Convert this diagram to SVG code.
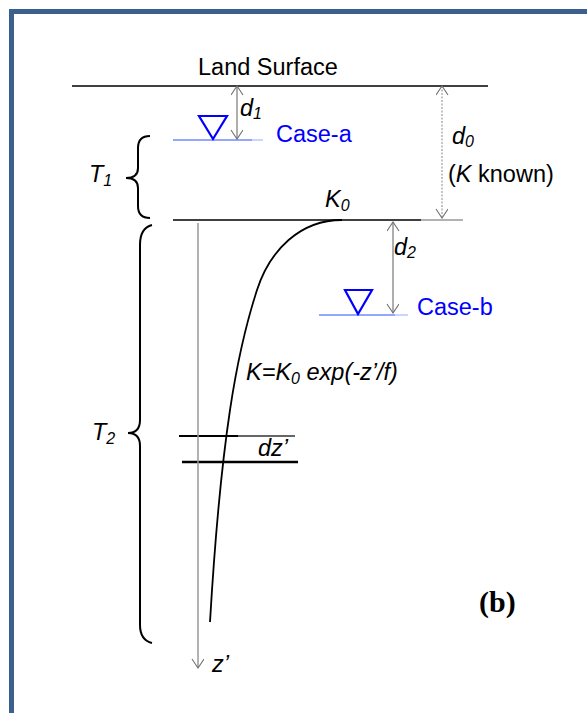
<svg xmlns="http://www.w3.org/2000/svg" width="587" height="713" viewBox="0 0 587 713">
<style>
.t{font-family:"Liberation Sans",Arial,sans-serif;font-size:23.5px;fill:#000}
.i{font-style:italic}
.s{font-size:16px}
.blue{fill:#0000ff}
.gl{stroke:#8c8c8c;stroke-width:1.4;fill:none}
.bl{stroke:#000;fill:none}
.wl{stroke:#2a50ff;stroke-width:1.2}
.tri{fill:none;stroke:#0000ff;stroke-width:2.2;stroke-linejoin:miter}
.br{fill:none;stroke:#000;stroke-width:2}
</style>
<defs>
<marker id="open" markerUnits="userSpaceOnUse" markerWidth="12" markerHeight="14" refX="10" refY="6" orient="auto-start-reverse" viewBox="0 0 12 14">
<path d="M1,0 L10,6 L1,12" fill="none" stroke="#707070" stroke-width="1.1"/>
</marker>
</defs>
<rect width="587" height="713" fill="#fff"/>
<g id="frame"><rect x="11.5" y="11.5" width="620" height="740" fill="none" stroke="#3b5f8f" stroke-width="5"/></g>

<g id="land-surface">
<line class="bl" x1="72" y1="86" x2="488" y2="86" stroke-width="1.3"/>
<text class="t" x="198" y="75">Land Surface</text>
</g>

<g id="case-a">
<line class="wl" x1="173" y1="140" x2="252" y2="140"/>
<line x1="252" y1="140" x2="263" y2="140" stroke="#a8b8ff" stroke-width="1.2"/>
<polygon class="tri" points="199,116 227,116 213,139"/>
<text class="t blue" x="276" y="142">Case-a</text>
</g>

<g id="k0-layer">
<line class="bl" x1="173" y1="220" x2="421" y2="220" stroke-width="1.3"/>
<line x1="421" y1="220" x2="463" y2="220" stroke="#999" stroke-width="1.4"/>
<text class="t i" x="325" y="207">K<tspan class="s" dy="4">0</tspan></text>
</g>

<g id="case-b">
<line class="wl" x1="319" y1="315" x2="395" y2="315"/>
<line x1="395" y1="315" x2="408" y2="315" stroke="#a8b8ff" stroke-width="1.2"/>
<polygon class="tri" points="345,290 372,290 358,314"/>
<text class="t blue" x="417" y="315">Case-b</text>
</g>

<g id="k-curve">
<path class="bl" stroke-width="1.8" d="M342,220 C300,220 270,250 257,290 C244,330 236,370 230,410 C224,450 216,520 210,622"/>
<text class="t i" x="246" y="380">K=K<tspan class="s" dy="4">0</tspan><tspan dy="-4"> exp(-z’/f)</tspan></text>
</g>

<g id="dz-slice">
<line x1="179" y1="436" x2="238" y2="436" stroke="#000" stroke-width="2"/>
<line x1="238" y1="436" x2="295" y2="436" stroke="#666" stroke-width="2"/>
<line x1="182" y1="462" x2="298" y2="462" stroke="#000" stroke-width="2.6"/>
<text class="t i" x="258" y="456">dz’</text>
</g>

<g id="t1">
<path class="br" d="M150,136 Q138,136 138,148 L138,168 Q138,178 126,178 Q138,178 138,188 L138,206 Q138,218 150,218"/>
<text class="t i" x="89" y="182">T<tspan class="s" dy="4">1</tspan></text>
</g>

<g id="t2">
<path class="br" d="M152,225 Q140,228 140,245 L140,420 Q140,433 128,433 Q140,433 140,446 L140,625 Q140,640 152,643"/>
<text class="t i" x="92" y="440">T<tspan class="s" dy="4">2</tspan></text>
</g>

<g id="label-b"><text x="479" y="612" font-family="'Liberation Serif','Times New Roman',serif" font-weight="bold" font-size="30">(b)</text></g>

<g id="connectors">
<line class="gl" x1="237" y1="86" x2="237" y2="139" marker-start="url(#open)" marker-end="url(#open)"/>
<line x1="442" y1="86" x2="442" y2="218" stroke="#b0b0b0" stroke-width="1.5" stroke-dasharray="2 1.5" marker-start="url(#open)" marker-end="url(#open)"/>
<line class="gl" x1="393" y1="222" x2="393" y2="313" marker-start="url(#open)" marker-end="url(#open)"/>
<line x1="198" y1="223" x2="198" y2="668" stroke="#999" stroke-width="1.5" marker-end="url(#open)"/>
</g>

<g id="dim-labels">
<text class="t i" x="240" y="116">d<tspan class="s" dy="3">1</tspan></text>
<text class="t i" x="452" y="144">d<tspan class="s" dy="3">0</tspan></text>
<text class="t" x="448" y="182">(<tspan class="i">K</tspan> known)</text>
<text class="t i" x="394" y="255">d<tspan class="s" dy="3">2</tspan></text>
<text class="t i" x="212" y="672">z’</text>
</g>
</svg>
